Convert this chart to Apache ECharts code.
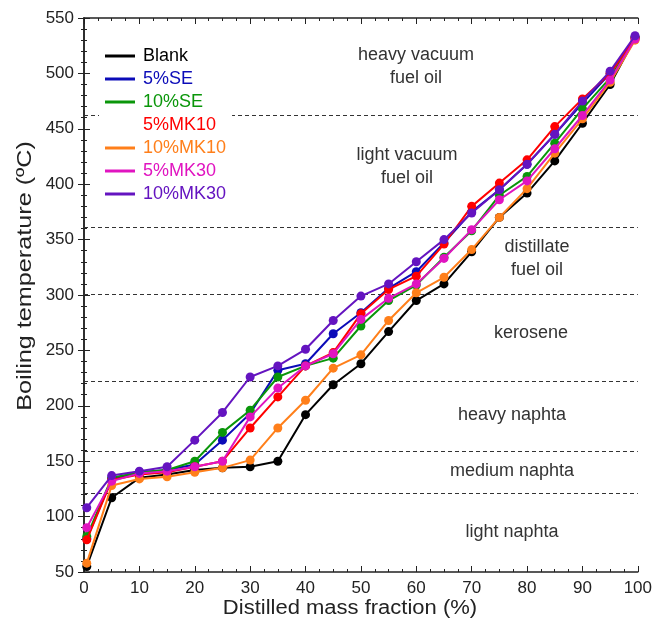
<!DOCTYPE html>
<html><head><meta charset="utf-8">
<script src="https://cdn.jsdelivr.net/npm/echarts@6/dist/echarts.min.js"></script>
<style>html,body{margin:0;padding:0;background:#fff}#c{width:655px;height:632px}</style>
</head><body><div id="c"></div>
<script>
const xValues = [0.5,5,10,15,20,25,30,35,40,45,50,55,60,65,70,75,80,85,90,95,99.5];
const blank   = [55,117,135,138,142,144,145,150,192,219,238,267,295,310,339,370,392,421,455,490,532];
const se5     = [80,134,140,142,147,169,193,232,238,265,284,306,321,347,375,395,418,445,473,500,533];
const se10    = [82,135,140,142,150,176,196,226,236,243,272,295,309,334,358,390,407,437,468,496,532];
const mk10_5  = [79,133,138,140,145,150,180,208,236,248,283,305,317,346,380,401,422,452,477,500,532];
const mk10_10 = [58,128,134,136,140,144,151,180,205,234,246,277,302,316,341,370,396,428,459,492,530];
const mk30_5  = [90,132,139,141,145,150,190,216,236,247,278,297,310,333,359,386,403,432,462,494,531];
const mk30_10 = [108,137,141,145,169,194,226,236,251,277,299,310,330,350,374,395,418,445,475,502,534];
const seriesNames = ['Blank','5%SE','10%SE','5%MK10','10%MK10','5%MK30','10%MK30'];
const seriesColors = ['#000000','#0b0bb8','#0a960a','#ff0000','#ff7f1a','#e014c0','#6414c0'];
const boundaries = [121,159,222,301,361,462];
const xTitle = 'Distilled mass fraction (%)';
const yTitle = 'Boiling temperature (ºC)';
const zoneLabels = [
  {t:'heavy vacuum\nfuel oil', x:416, y:67},
  {t:'light vacuum\nfuel oil', x:407, y:167},
  {t:'distillate\nfuel oil', x:537, y:259},
  {t:'kerosene', x:531, y:333},
  {t:'heavy naphta', x:512, y:415},
  {t:'medium naphta', x:512, y:471},
  {t:'light naphta', x:512, y:532}
];
const allData = [blank,se5,se10,mk10_5,mk10_10,mk30_5,mk30_10];
const FONT = 'Liberation Sans, Arial, sans-serif';

const series = allData.map((d,i)=>({
  name: seriesNames[i], type:'line', data: xValues.map((x,j)=>[x,d[j]]),
  symbol:'circle', symbolSize:9, color: seriesColors[i],
  lineStyle:{width:2, color: seriesColors[i]}, itemStyle:{color: seriesColors[i]},
  z: 3 + i, animation:false
}));
series[0].markLine = {
  silent:true, symbol:['none','none'], label:{show:false},
  lineStyle:{color:'#333', type:[4,3], width:1},
  data: boundaries.map(v=>({yAxis:v})), z:1, animation:false
};

const chart = echarts.init(document.getElementById('c'));
chart.setOption({
  backgroundColor:'#fff',
  animation:false,
  grid:{left:84,right:15,top:18,bottom:60},
  legend:{
    orient:'vertical', left:99, top:43, backgroundColor:'#fff', padding:[4,6,4,6],
    itemGap:5, itemWidth:30, itemHeight:3, z:10,
    icon:'path://M0,0 L30,0 L30,3 L0,3 Z',
    textStyle:{fontFamily:FONT, fontSize:18, lineHeight:18, padding:[0,0,0,3]},
    data: seriesNames.map((n,i)=>({name:n, textStyle:{color:seriesColors[i], fontFamily:FONT, fontSize:18, lineHeight:18},
      itemStyle: i===3 ? {opacity:0} : undefined}))
  },
  xAxis:[{
    type:'value', min:0, max:100, interval:10,
    axisLine:{lineStyle:{color:'#222', width:1.5}},
    axisTick:{inside:true, length:6, lineStyle:{color:'#222'}},
    minorTick:{show:true, splitNumber:4, length:3, lineStyle:{color:'#222'}},
    axisLabel:{fontFamily:FONT, fontSize:17, color:'#222', margin:8},
    splitLine:{show:false}
  },{
    type:'value', min:0, max:100, interval:10, position:'top',
    axisLine:{lineStyle:{color:'#222', width:1.5}},
    axisTick:{inside:true, length:6, lineStyle:{color:'#222'}},
    minorTick:{show:true, splitNumber:4, length:3, lineStyle:{color:'#222'}},
    axisLabel:{show:false}, splitLine:{show:false}
  }],
  yAxis:[{
    type:'value', min:50, max:550, interval:50,
    axisLine:{show:true, lineStyle:{color:'#222', width:1.5}},
    axisTick:{show:true, inside:true, length:6, lineStyle:{color:'#222'}},
    minorTick:{show:true, splitNumber:5, length:3, lineStyle:{color:'#222'}},
    axisLabel:{fontFamily:FONT, fontSize:17, color:'#222', margin:10},
    splitLine:{show:false}
  },{
    type:'value', min:50, max:550, interval:50, position:'right',
    axisLine:{show:true, lineStyle:{color:'#222', width:1.5}},
    axisTick:{show:true, inside:true, length:6, lineStyle:{color:'#222'}},
    minorTick:{show:true, splitNumber:5, length:3, lineStyle:{color:'#222'}},
    axisLabel:{show:false}, splitLine:{show:false}
  }],
  graphic: zoneLabels.map(z=>({
    type:'text', x:z.x, y:z.y, z:5,
    style:{text:z.t, fill:'#333', font:'18px '+FONT, textAlign:'center', textVerticalAlign:'middle', lineHeight:23}
  })).concat([
    {type:'text', x:350, y:608, scaleX:1.1, z:5,
     style:{text:xTitle, fill:'#222', font:'20px '+FONT, textAlign:'center', textVerticalAlign:'middle'}},
    {type:'text', x:25, y:276, rotation:Math.PI/2, scaleX:1.2, z:5,
     style:{text:yTitle, fill:'#222', font:'21px '+FONT, textAlign:'center', textVerticalAlign:'middle'}}
  ]),
  series: series
});
</script></body></html>
